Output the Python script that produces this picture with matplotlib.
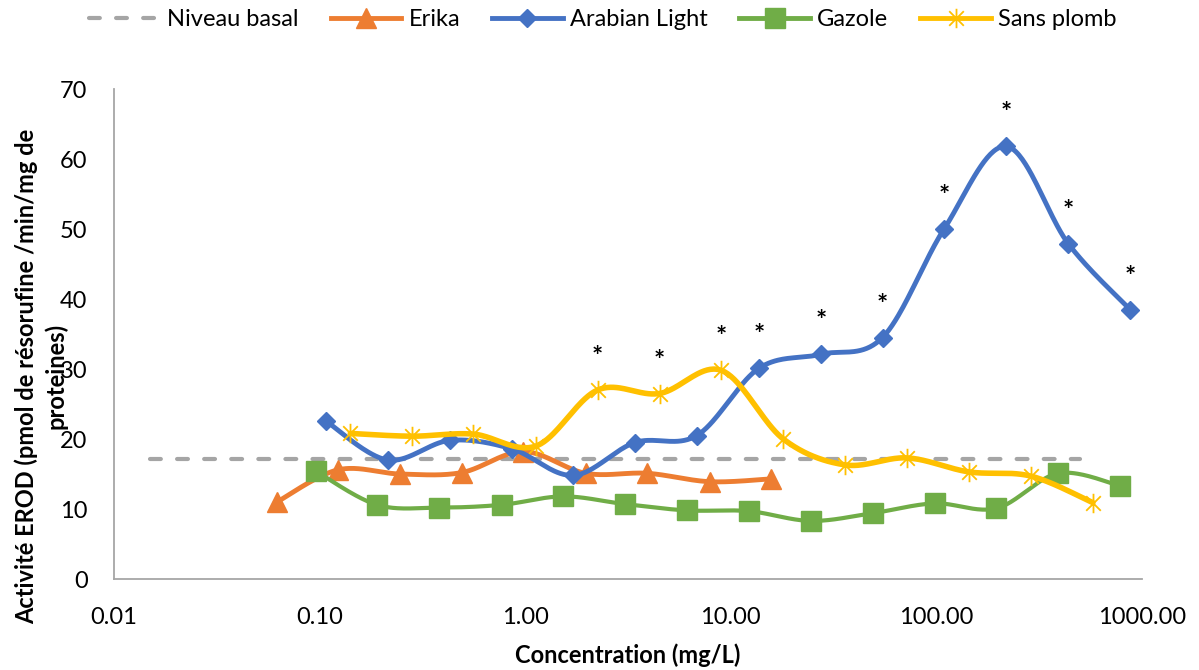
import matplotlib

matplotlib.use("Agg")
import matplotlib.pyplot as plt
import numpy as np
from matplotlib.lines import Line2D
from matplotlib.path import Path

plt.rcParams["font.family"] = ["Lato", "DejaVu Sans"]

# --- data ---
basal_x = [0.015, 500]
basal_y = [17.1, 17.1]

erika_x = [0.062, 0.123, 0.246, 0.49, 0.98, 1.97, 3.93, 7.9, 15.7]
erika_y = [11.0, 15.6, 15.0, 15.2, 18.2, 15.1, 15.1, 13.9, 14.3]

arabian_x = [0.107, 0.214, 0.43, 0.86, 1.71, 3.42, 6.84, 13.7, 27.4, 54.7, 109, 219, 438, 875]
arabian_y = [22.6, 17.0, 19.8, 18.6, 14.8, 19.5, 20.5, 30.1, 32.1, 34.5, 50.0, 61.8, 47.9, 38.5]
arabian_sig = [0, 0, 0, 0, 0, 0, 0, 1, 1, 1, 1, 1, 1, 1]

gazole_x = [0.096, 0.19, 0.38, 0.77, 1.53, 3.06, 6.1, 12.2, 24.5, 49, 98, 196, 392, 784]
gazole_y = [15.4, 10.6, 10.2, 10.6, 11.8, 10.7, 9.8, 9.7, 8.3, 9.4, 10.8, 10.1, 15.1, 13.3]

sp_x = [0.141, 0.28, 0.56, 1.13, 2.25, 4.5, 9.0, 18, 36, 72, 144, 288, 577]
sp_y = [20.8, 20.4, 20.7, 19.0, 27.0, 26.5, 29.8, 20.0, 16.3, 17.3, 15.3, 14.7, 10.9]
sp_sig = [0, 0, 0, 0, 1, 1, 1, 0, 0, 0, 0, 0, 0]

x_ticks = [0.01, 0.1, 1, 10, 100, 1000]
x_ticklabels = ["0.01", "0.10", "1.00", "10.00", "100.00", "1000.00"]
y_ticks = [0, 10, 20, 30, 40, 50, 60, 70]

GRAY = "#A5A5A5"
ORANGE = "#ED7D31"
BLUE = "#4472C4"
GREEN = "#70AD47"
YELLOW = "#FFC000"
FS = 17

# excel-like star marker: vertical bar + X
STAR = Path(
    [(0, -1), (0, 1), (-0.75, -0.75), (0.75, 0.75), (-0.75, 0.75), (0.75, -0.75)],
    [Path.MOVETO, Path.LINETO, Path.MOVETO, Path.LINETO, Path.MOVETO, Path.LINETO],
)


def smooth(x, y, n=40):
    """Excel-style smoothed line (Catmull-Rom bezier) in log-x space."""
    pts = np.column_stack([np.log10(x), np.asarray(y, dtype=float)])
    pts = np.vstack([pts[0], pts, pts[-1]])
    t = np.linspace(0, 1, n)[:, None]
    segs = []
    for i in range(1, len(pts) - 2):
        p0, p1, p2, p3 = pts[i - 1], pts[i], pts[i + 1], pts[i + 2]
        c1 = p1 + (p2 - p0) / 6
        c2 = p2 - (p3 - p1) / 6
        segs.append((1 - t) ** 3 * p1 + 3 * (1 - t) ** 2 * t * c1 + 3 * (1 - t) * t**2 * c2 + t**3 * p2)
    s = np.vstack(segs)
    return 10 ** s[:, 0], s[:, 1]


fig = plt.figure(figsize=(11.99, 6.70), dpi=100)
ax = fig.add_axes([114 / 1199, 1 - 579 / 670, (1142 - 114) / 1199, (579 - 89) / 670])

ax.plot(basal_x, basal_y, color=GRAY, lw=3, dashes=(2.6, 3.9), dash_capstyle="round")

series = [
    (erika_x, erika_y, ORANGE, 3.5, dict(marker="^", ms=15, mfc=ORANGE, mec=ORANGE, mew=1)),
    (arabian_x, arabian_y, BLUE, 3.5, dict(marker="D", ms=9.5, mfc=BLUE, mec=BLUE, mew=1)),
    (gazole_x, gazole_y, GREEN, 3.0, dict(marker="s", ms=14, mfc=GREEN, mec=GREEN, mew=1)),
    (sp_x, sp_y, YELLOW, 4.0, dict(marker=STAR, ms=14, mfc="none", mec=YELLOW, mew=1.3)),
]
for xs, ys, col, lw, mk in series:
    sx, sy = smooth(xs, ys)
    ax.plot(sx, sy, color=col, lw=lw, solid_capstyle="round")
    ax.plot(xs, ys, ls="none", **mk)

# significance stars
for xs, ys, sig in [(sp_x, sp_y, sp_sig), (arabian_x, arabian_y, arabian_sig)]:
    for xv, yv, s in zip(xs, ys, sig):
        if s:
            ax.annotate("*", (xv, yv), xytext=(0, 33), textcoords="offset pixels",
                        ha="center", va="center", fontsize=19, fontweight="bold", color="black")

ax.set_xscale("log")
ax.set_xlim(0.01, 1000)
ax.set_ylim(0, 70)
ax.set_xticks(x_ticks)
ax.set_xticklabels(x_ticklabels)
ax.xaxis.set_minor_locator(matplotlib.ticker.NullLocator())
ax.set_yticks(y_ticks)
ax.tick_params(axis="both", length=0, labelsize=FS, colors="#000000")
ax.tick_params(axis="x", pad=20)
ax.tick_params(axis="y", pad=19)

for side in ["top", "right"]:
    ax.spines[side].set_visible(False)
for side in ["left", "bottom"]:
    ax.spines[side].set_color("#A6A6A6")
    ax.spines[side].set_linewidth(1.3)

fig.text(628 / 1199, 1 - 655 / 670, "Concentration (mg/L)", ha="center", va="center",
         fontsize=FS, fontweight="bold")
fig.text(41 / 1199, 1 - 376 / 670, "Activité EROD (pmol de résorufine /min/mg de\nproteines)",
         rotation=90, ha="center", va="center", multialignment="center",
         fontsize=FS, fontweight="bold", linespacing=1.3)

handles = [
    Line2D([], [], color=GRAY, lw=3, dashes=(2.6, 3.9), dash_capstyle="round"),
    Line2D([], [], color=ORANGE, lw=3.5, **series[0][4]),
    Line2D([], [], color=BLUE, lw=3.5, **series[1][4]),
    Line2D([], [], color=GREEN, lw=3.5, **series[2][4]),
    Line2D([], [], color=YELLOW, lw=3.5, **series[3][4]),
]
labels = ["Niveau basal", "Erika", "Arabian Light", "Gazole", "Sans plomb"]
fig.legend(handles, labels, loc="center", bbox_to_anchor=(603 / 1199, 1 - 20 / 670), ncol=5,
           frameon=False, fontsize=FS, handlelength=3.0, handletextpad=0.3, columnspacing=1.35,
           borderpad=0, numpoints=1)

fig.savefig("out.png", dpi=100)
